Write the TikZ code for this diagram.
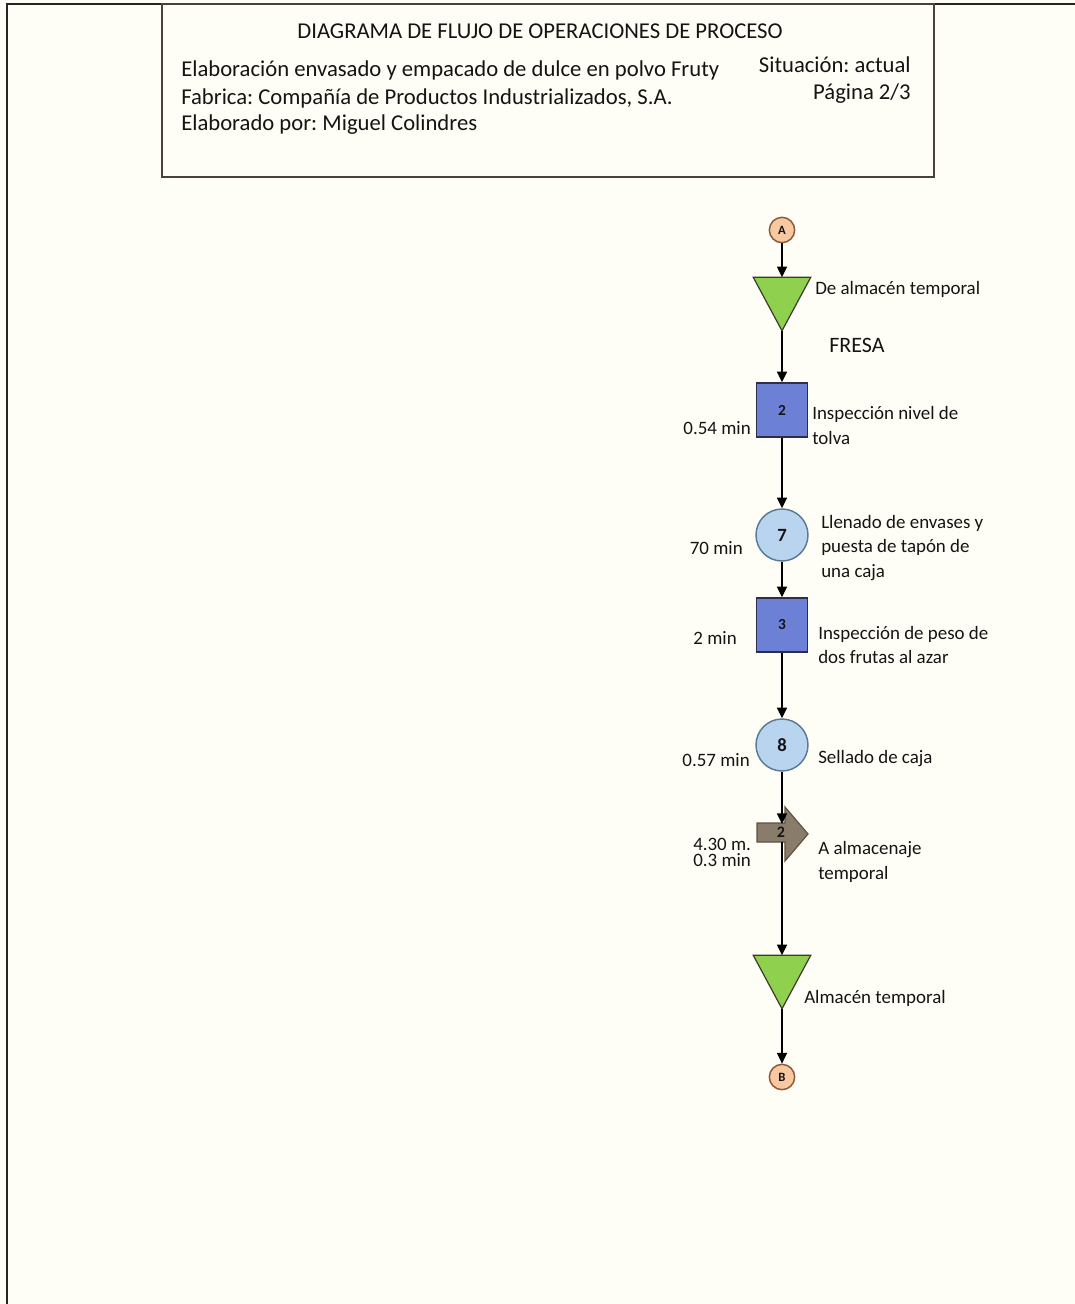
\documentclass[tikz,border=0pt]{standalone}
\usepackage{fontspec}
\setmainfont{Carlito}
\usetikzlibrary{arrows.meta}
\frenchspacing
\definecolor{bgc}{HTML}{FFFEF6}
\definecolor{txt}{HTML}{141414}
\definecolor{hdrline}{HTML}{4A4238}
\definecolor{trigreen}{HTML}{8FD14F}
\definecolor{triborder}{HTML}{3A3A30}
\definecolor{sqblue}{HTML}{6C80D6}
\definecolor{sqborder}{HTML}{2E2E48}
\definecolor{cirfill}{HTML}{B8D4EE}
\definecolor{cirborder}{HTML}{5B7A98}
\definecolor{confill}{HTML}{F8C8A0}
\definecolor{conborder}{HTML}{8B5A3C}
\definecolor{trfill}{HTML}{8A7C6A}
\definecolor{trborder}{HTML}{5E5244}
\tikzset{
  hdr/.style={font=\fontsize{17}{21}\selectfont, text=txt, inner sep=0pt},
  lbl/.style={font=\fontsize{14.2}{18.4}\selectfont, text=txt, inner sep=0pt, align=left},
  tight/.style={font=\fontsize{14.2}{12.6}\selectfont, text=txt, inner sep=0pt, align=left},
  sqbox/.style={rectangle, draw=sqborder, fill=sqblue, line width=1.1pt,
    minimum width=38.5pt, minimum height=40.5pt, inner sep=0pt,
    font=\fontsize{11.5}{12}\selectfont\bfseries, text=txt},
  opcirc/.style={circle, draw=cirborder, fill=cirfill, line width=1.1pt,
    minimum size=39pt, inner sep=0pt, font=\fontsize{14}{15}\selectfont\bfseries, text=txt},
  concirc/.style={circle, draw=conborder, fill=confill, line width=1.1pt,
    minimum size=19pt, inner sep=0pt, font=\fontsize{9.5}{10}\selectfont\bfseries, text=txt},
  triholder/.style={rectangle, minimum width=42.75pt, minimum height=39.75pt, inner sep=0pt},
  trishape/.style={draw=triborder, fill=trigreen, line width=0.9pt, line join=miter},
  flow/.style={draw=black, line width=1.1pt, -{Triangle[width=7.5pt,length=8pt]}},
}
\begin{document}
\begin{tikzpicture}[x=0.75pt,y=-0.75pt]
\useasboundingbox (0,0) rectangle (1075,1304);
\fill[bgc] (0,0) rectangle (1075,1304);
% page border
\draw[line width=1.5pt, color=black!85] (7,1304) -- (7,4) -- (1075,4);
% header box
\draw[line width=1.6pt, color=hdrline] (162,4) rectangle (934,177);
\node[hdr] (title) at (540,31) {DIAGRAMA DE FLUJO DE OPERACIONES DE PROCESO};
\node[hdr, anchor=west] (l1) at (181,70) {Elaboración envasado y empacado de dulce en polvo Fruty};
\node[hdr, anchor=west] (l2) at (181,98) {Fabrica: Compañía de Productos Industrializados, S.A.};
\node[hdr, anchor=west] (l3) at (181,125) {Elaborado por: Miguel Colindres};
\node[hdr, anchor=east] (sit) at (911,65) {Situación: actual};
\node[hdr, anchor=east] (pag) at (911,94) {Página 2/3};

% nodes
\node[concirc] (A) at (782,230) {A};
\node[triholder] (t1) at (782,304) {};
\filldraw[trishape] (t1.north west) -- (t1.north east) -- (t1.south) -- cycle;
\node[sqbox] (s2) at (782,410) {2};
\node[opcirc] (c7) at (782,535) {7};
\node[sqbox] (s3) at (782,625) {3};
\node[opcirc] (c8) at (782,745) {8};
% transport
\filldraw[fill=trfill, draw=trborder, line width=0.9pt, line join=miter]
  (757,823) -- (785,823) -- (785,807) -- (808,834) -- (785,861) -- (785,842) -- (757,842) -- cycle;
\node[font=\fontsize{12}{13}\selectfont\bfseries, text=txt, inner sep=0pt] (tr) at (781,832) {2};
\coordinate (trin) at (782,824);
\coordinate (trout) at (782,842);
\node[triholder] (t2) at (782,982) {};
\filldraw[trishape] (t2.north west) -- (t2.north east) -- (t2.south) -- cycle;
\node[concirc] (B) at (782,1077) {B};

% connectors
\path[flow] (A) -- (t1.north);
\path[flow] (t1.south) -- (s2.north);
\path[flow] (s2.south) -- (c7.north);
\path[flow] (c7.south) -- (s3.north);
\path[flow] (s3.south) -- (c8.north);
\path[flow] (c8.south) -- (trin);
\path[flow] (trout) -- (t2.north);
\path[flow] (t2.south) -- (B.north);

% labels
\node[lbl, anchor=west] (lt1) at (815,289) {De almacén temporal};
\node[font=\fontsize{16.5}{18}\selectfont, text=txt, inner sep=0pt] (fresa) at (857,345) {FRESA};
\node[lbl, anchor=east] (m2) at (751,428) {0.54 min};
\node[lbl, anchor=west] (d2) at (812,425.5) {Inspección nivel de\\tolva};
\node[lbl, anchor=east] (m7) at (743,548) {70 min};
\node[lbl, anchor=west] (d7) at (821,548) {Llenado de envases y\\puesta de tapón de\\una caja};
\node[lbl, anchor=east] (m3) at (737,638) {2 min};
\node[lbl, anchor=west] (d3) at (818,645) {Inspección de peso de\\dos frutas al azar};
\node[lbl, anchor=east] (m8) at (750,760) {0.57 min};
\node[lbl, anchor=west] (d8) at (818,759) {Sellado de caja};
\node[tight, anchor=west] (mtr) at (693,852.5) {4.30 m.\\0.3 min};
\node[lbl, anchor=west] (dtr) at (818,862) {A almacenaje\\temporal};
\node[lbl, anchor=west] (dt2) at (804,998) {Almacén temporal};
\end{tikzpicture}
\end{document}
